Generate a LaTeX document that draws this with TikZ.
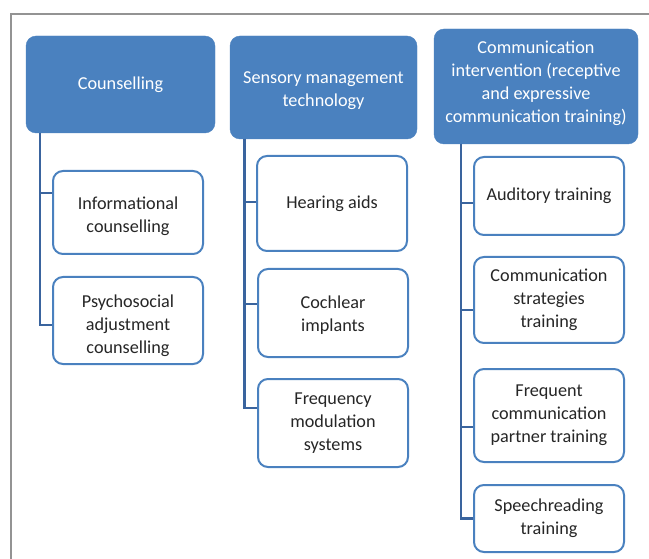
\documentclass[tikz,border=0pt]{standalone}
\usepackage{fontspec}
\setmainfont{Carlito}
\usepackage{tikz}
\usetikzlibrary{positioning}
\definecolor{headblue}{RGB}{74,129,191}
\definecolor{linkblue}{RGB}{58,100,158}
\definecolor{textgray}{RGB}{38,38,38}
\tikzset{head/.style = {fill=headblue, draw=headblue, rounded corners=10pt, text=white,
                        align=center, font=\fontsize{18.2}{23}\selectfont}}
\tikzset{item/.style = {fill=white, draw=headblue, line width=2pt, rounded corners=10pt,
                        text=textgray, align=center, minimum width=150pt,
                        font=\fontsize{18.2}{23}\selectfont}}
\tikzset{headtext/.style = {text=white, align=center, font=\fontsize{18.2}{23}\selectfont}}
\tikzset{itemtext/.style = {text=textgray, align=center, font=\fontsize{18.2}{23}\selectfont}}
\tikzset{link/.style = {draw=linkblue, line width=2.5pt}}

\begin{document}
\begin{tikzpicture}[x=1pt, y=-1pt]
      \useasboundingbox (0, 0) rectangle (649, 559);
      \draw [gray!85, line width=1.4pt] (11, 559) -- (11, 14) -- (649, 14);

      \node [head, minimum width=189pt, minimum height=97pt] (couns) at (120.5, 84.5) {Counselling};
      \node [head, minimum width=187pt, minimum height=103pt] (sensory) at (323.5, 87.5) {};
      \node [headtext] (sensory-t) at ([yshift=-3pt]sensory.center) {Sensory management\\technology};
      \node [head, minimum width=204pt, minimum height=115pt] (comm) at (536, 86.5) {};
      \node [headtext] (comm-t) at ([yshift=3pt]comm.center)
            {Communication\\intervention (receptive\\and expressive\\communication training)};

      \node [item, minimum height=83pt] (info) at (128, 212.5) {};
      \node [itemtext] (info-t) at ([yshift=-3.5pt]info.center) {Informational\\counselling};
      \node [item, minimum height=87pt] (psych) at (128, 320.5) {};
      \node [itemtext] (psych-t) at ([yshift=-5.5pt]psych.center) {Psychosocial\\adjustment\\counselling};

      \node [item, minimum height=95pt] (hear) at (332, 203.5) {Hearing aids};
      \node [item, minimum height=88pt] (coch) at (333, 313) {};
      \node [itemtext] (coch-t) at ([yshift=-2pt]coch.center) {Cochlear\\implants};
      \node [item, minimum height=88pt] (freq) at (333, 423) {Frequency\\modulation\\systems};

      \node [item, minimum height=78pt] (aud) at (549, 196) {Auditory training};
      \node [item, minimum height=86pt] (strat) at (549, 300) {Communication\\strategies\\training};
      \node [item, minimum height=93pt] (partner) at (549, 415.5) {Frequent\\communication\\partner training};
      \node [item, minimum height=67pt] (speech) at (549, 518.5) {Speechreading\\training};

      \coordinate (t1) at (40, 133);
      \coordinate (t2) at (244.5, 139);
      \coordinate (t3) at (461, 144);

      \draw [link] (t1) |- ([yshift=19.5pt]info.west);
      \draw [link] (t1) |- ([yshift=-4.5pt]psych.west);
      \draw [link] (t2) |- ([yshift=1.5pt]hear.west);
      \draw [link] (t2) |- ([yshift=9pt]coch.west);
      \draw [link] (t2) |- ([yshift=15pt]freq.west);
      \draw [link] (t3) |- ([yshift=-7pt]aud.west);
      \draw [link] (t3) |- ([yshift=-10pt]strat.west);
      \draw [link] (t3) |- ([yshift=-11.5pt]partner.west);
      \draw [link] (t3) |- (speech.west);
    \end{tikzpicture}
\end{document}
